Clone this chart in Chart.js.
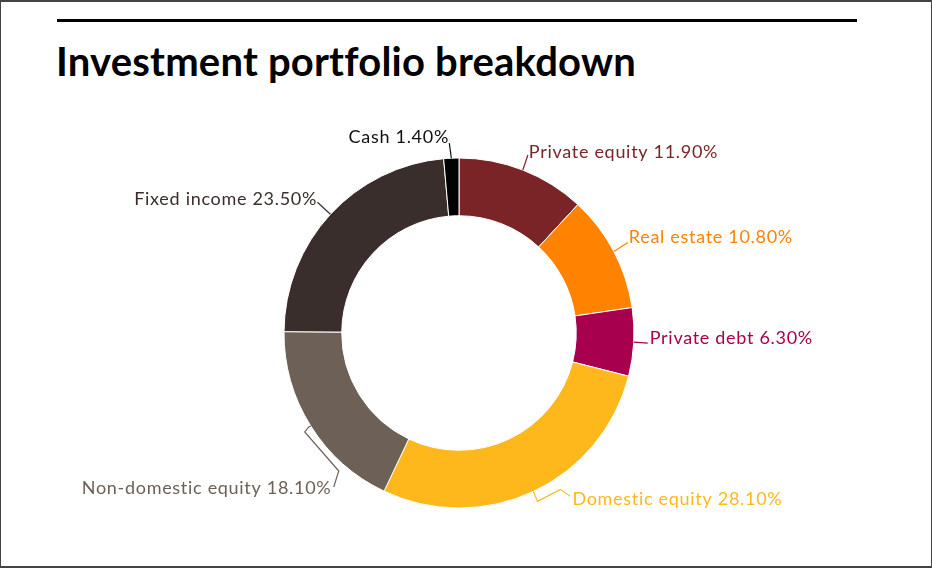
<!DOCTYPE html>
<html>
<head>
<meta charset="utf-8">
<script src="https://cdn.jsdelivr.net/npm/chart.js@4"></script>
<style>
  html, body { margin: 0; padding: 0; background: #fff; }
  #page { position: relative; width: 932px; height: 568px; overflow: hidden; background: #fff; }
  #frame { position: absolute; left: 0; top: 0; width: 932px; height: 568px; box-sizing: border-box;
           border-style: solid; border-color: #444; border-width: 2px 1px 2px 1px; pointer-events: none; }
  #rule { position: absolute; left: 57px; top: 19px; width: 800px; height: 3px; background: #000; }
  #title { position: absolute; left: 56px; top: 36px; margin: 0; font-family: Lato, sans-serif;
           font-weight: 700; font-size: 40px; line-height: 50px; color: #000; white-space: nowrap; letter-spacing: 0.2px; }
  #wrap { position: absolute; left: 0; top: 0; width: 932px; height: 568px; }
</style>
</head>
<body>
<div id="page">
  <div id="rule"></div>
  <h1 id="title">Investment portfolio breakdown</h1>
  <div id="wrap"><canvas id="c" width="932" height="568"></canvas></div>
  <div id="frame"></div>
</div>
<script>
const categories = ["Private equity", "Real estate", "Private debt", "Domestic equity", "Non-domestic equity", "Fixed income", "Cash"];
const values = [11.9, 10.8, 6.3, 28.1, 18.1, 23.5, 1.4];
const sliceColors = ["#7b2428", "#ff8200", "#a6004f", "#ffb81c", "#6d6157", "#392e2c", "#000000"];
const labelColors = ["#7b2428", "#ff8200", "#a6004f", "#ffb81c", "#6d6157", "#392e2c", "#111111"];

// label layout: leader polyline offsets from slice anchor, text offset and alignment
const labelLayout = [
  { pts: [[5, -15]], text: [6, -18], align: "left" },
  { pts: [[14, -9]], text: [15, -14], align: "left" },
  { pts: [[14, 1]], text: [16, -4], align: "left" },
  { pts: [[4, 10], [27, -2], [37, 5]], text: [39, 8], align: "left" },
  { pts: [[-2, 1], [-6, 6], [28, 45], [23, 61]], text: [20, 62], align: "right" },
  { pts: [[-13, -12]], text: [-14, -15], align: "right" },
  { pts: [[-2, -15]], text: [-3, -21], align: "right" }
];

const leaderPlugin = {
  id: "leaders",
  afterDatasetsDraw(chart) {
    const ctx = chart.ctx;
    const meta = chart.getDatasetMeta(0);
    ctx.save();
    ctx.font = "18px Lato, sans-serif";
    if ("letterSpacing" in ctx) ctx.letterSpacing = "0.7px";
    ctx.textBaseline = "middle";
    meta.data.forEach((arc, i) => {
      const p = arc.getProps(["x", "y", "startAngle", "endAngle", "outerRadius"], true);
      const mid = (p.startAngle + p.endAngle) / 2;
      const ax = p.x + Math.cos(mid) * p.outerRadius;
      const ay = p.y + Math.sin(mid) * p.outerRadius;
      const lay = labelLayout[i];
      ctx.strokeStyle = labelColors[i];
      ctx.lineWidth = 1.2;
      ctx.beginPath();
      ctx.moveTo(ax, ay);
      lay.pts.forEach(q => ctx.lineTo(ax + q[0], ay + q[1]));
      ctx.stroke();
      ctx.fillStyle = labelColors[i];
      ctx.textAlign = lay.align;
      const tx = ax + lay.text[0] + (lay.align === "right" ? 0.7 : 0);
      ctx.fillText(categories[i] + " " + values[i].toFixed(2) + "%", tx, ay + lay.text[1]);
    });
    ctx.restore();
  }
};

const cx = 459, cy = 333, half = 175.5;
new Chart(document.getElementById("c"), {
  type: "doughnut",
  data: {
    labels: categories,
    datasets: [{
      data: values,
      backgroundColor: sliceColors,
      borderColor: "#ffffff",
      borderWidth: 1
    }]
  },
  options: {
    responsive: false,
    animation: false,
    cutout: "67%",
    events: [],
    layout: { padding: { left: cx - half, right: 932 - cx - half, top: cy - half, bottom: 568 - cy - half } },
    plugins: { legend: { display: false }, tooltip: { enabled: false }, title: { display: false } }
  },
  plugins: [leaderPlugin]
});
</script>
</body>
</html>
